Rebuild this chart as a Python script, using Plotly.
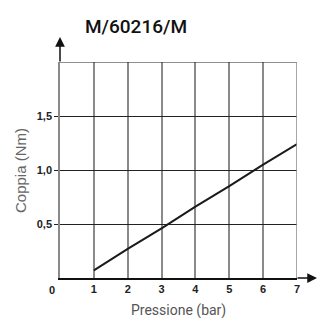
import plotly.graph_objects as go

pressione = [1, 2, 3, 4, 5, 6, 7]
coppia = [0.07, 0.27, 0.46, 0.66, 0.85, 1.05, 1.24]
x_ticks = [1, 2, 3, 4, 5, 6, 7]
y_ticks = [0.5, 1.0, 1.5]
y_tick_text = ["0,5", "1,0", "1,5"]

L, R, T, B = 60, 297, 62, 278
PW, PH = R - L, B - T


def px(xp):
    return (xp - L) / PW


def py(yp):
    return (B - yp) / PH


fig = go.Figure()
fig.add_trace(go.Scatter(x=pressione, y=coppia, mode="lines",
                         line=dict(color="#1a1a1a", width=2), showlegend=False))

tickfont = dict(family="Liberation Sans", size=11, color="#222222", weight="bold")
fig.update_layout(
    width=318, height=318,
    margin=dict(l=L, r=318 - R, t=T, b=318 - B),
    paper_bgcolor="white", plot_bgcolor="white",
    title=dict(text="M/60216/M", x=136 / 318, xanchor="center", y=1 - 26 / 318, yanchor="middle",
               font=dict(family="Roboto", size=19, color="#111111", weight=500)),
    xaxis=dict(range=[0, 7], tickvals=x_ticks, ticktext=[str(v) for v in x_ticks],
               showgrid=True, gridcolor="#8a8a8a", gridwidth=1.5,
               showline=True, linecolor="#111111", linewidth=1.5,
               ticks="", tickfont=tickfont, zeroline=False, fixedrange=True),
    yaxis=dict(range=[0, 2], tickvals=y_ticks, ticktext=y_tick_text,
               showgrid=True, gridcolor="#222222", gridwidth=1.2,
               showline=True, linecolor="#8a8a8a", linewidth=1.5,
               ticks="outside", ticklen=4, tickcolor="#222222", tickwidth=1.2,
               tickfont=tickfont, zeroline=False, fixedrange=True),
)

# top and right border lines
fig.add_shape(type="line", xref="x", yref="y", x0=0, x1=7, y0=2, y1=2,
              line=dict(color="#222222", width=1.2))
fig.add_shape(type="line", xref="x", yref="y", x0=7, x1=7, y0=0, y1=2,
              line=dict(color="#8a8a8a", width=1.5))

# arrows
fig.add_annotation(x=0, y=py(37), xref="x", yref="paper", ax=0, ay=26,
                   text="", showarrow=True, arrowhead=2, arrowsize=1.3, arrowwidth=1.5,
                   arrowcolor="#111111")
fig.add_annotation(x=px(318), y=0, xref="paper", yref="y", ax=-22, ay=0,
                   text="", showarrow=True, arrowhead=2, arrowsize=1.3, arrowwidth=1.5,
                   arrowcolor="#111111")

# origin label
fig.add_annotation(x=px(52), y=py(290), xref="paper", yref="paper", text="0",
                   showarrow=False, font=tickfont, xanchor="center", yanchor="middle")

# axis titles
fig.add_annotation(x=px(20), y=py(171), xref="paper", yref="paper", text="Coppia (Nm)",
                   textangle=-90, showarrow=False,
                   font=dict(family="Liberation Sans", size=15, color="#666666"),
                   xanchor="center", yanchor="middle")
fig.add_annotation(x=px(178), y=py(310), xref="paper", yref="paper", text="Pressione (bar)",
                   showarrow=False,
                   font=dict(family="Roboto", size=14, color="#555555"),
                   xanchor="center", yanchor="middle")

fig.write_html("out.html", config={"displayModeBar": False},
               post_script="document.body.style.margin='0';")
